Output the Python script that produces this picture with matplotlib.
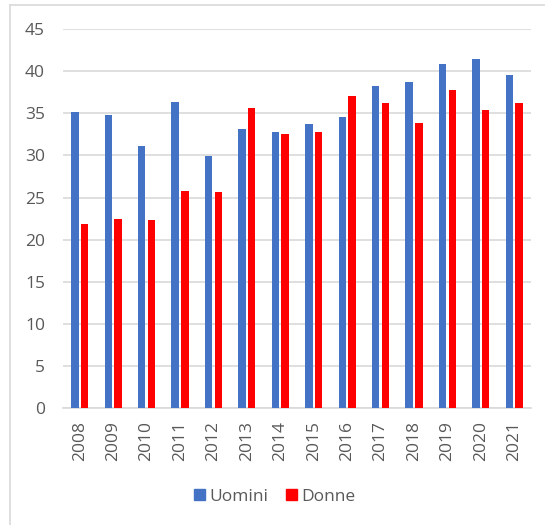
import matplotlib
matplotlib.use("Agg")
import matplotlib.pyplot as plt
from matplotlib.patches import Patch
from matplotlib.lines import Line2D
import numpy as np

years = ["2008", "2009", "2010", "2011", "2012", "2013", "2014",
         "2015", "2016", "2017", "2018", "2019", "2020", "2021"]
uomini = [35.1, 34.8, 31.1, 36.3, 29.9, 33.1, 32.8,
          33.7, 34.6, 38.2, 38.7, 40.8, 41.4, 39.5]
donne = [21.9, 22.4, 22.3, 25.8, 25.7, 35.6, 32.5,
         32.8, 37.0, 36.2, 33.9, 37.8, 35.4, 36.2]
series_names = ["Uomini", "Donne"]
yticks = [0, 5, 10, 15, 20, 25, 30, 35, 40, 45]

BLUE = "#4472C4"
RED = "#FF0000"
GRID = "#D9D9D9"
TXT = "#595959"

plt.rcParams['font.family'] = ['Open Sans', 'DejaVu Sans']

W, H = 545, 525
fig = plt.figure(figsize=(W / 100, H / 100), dpi=100)

# chart border (cropped Excel chart frame)
fig.add_artist(Line2D([9.5 / W, 9.5 / W], [0, (H - 4.5) / H], transform=fig.transFigure,
                      color=GRID, lw=1.2))
fig.add_artist(Line2D([9.5 / W, 1], [(H - 4.5) / H, (H - 4.5) / H], transform=fig.transFigure,
                      color=GRID, lw=1.2))

ax = fig.add_axes([63 / W, (H - 408.3) / H, (531 - 63) / W, (408.3 - 29) / H])
x = np.arange(len(years))
bw = 0.22
off = 0.145
ax.bar(x - off, uomini, width=bw, color=BLUE, label=series_names[0], zorder=3)
ax.bar(x + off, donne, width=bw, color=RED, label=series_names[1], zorder=3)

ax.set_xlim(-0.5, len(years) - 0.5)
ax.set_ylim(0, 45)
ax.set_yticks(yticks)
ax.set_yticklabels([str(v) for v in yticks])
ax.set_xticks(x)
ax.set_xticklabels(years, rotation=90)
ax.yaxis.grid(True, color=GRID, lw=1.2, zorder=0)
ax.set_axisbelow(True)
for s in ["top", "right", "left"]:
    ax.spines[s].set_visible(False)
ax.spines["bottom"].set_color(GRID)
ax.spines["bottom"].set_linewidth(1.2)
ax.tick_params(axis="both", length=0, labelsize=12.5, labelcolor=TXT)
ax.tick_params(axis="y", pad=13)
ax.tick_params(axis="x", pad=9)

handles = [Patch(color=BLUE), Patch(color=RED)]
fig.legend(handles, series_names, loc="center", bbox_to_anchor=(275 / W, (H - 497) / H),
           ncol=2, frameon=False, fontsize=12.5, labelcolor=TXT,
           handlelength=0.6, handleheight=0.6, handletextpad=0.3, columnspacing=1.0)

fig.savefig("out.png", dpi=100)
